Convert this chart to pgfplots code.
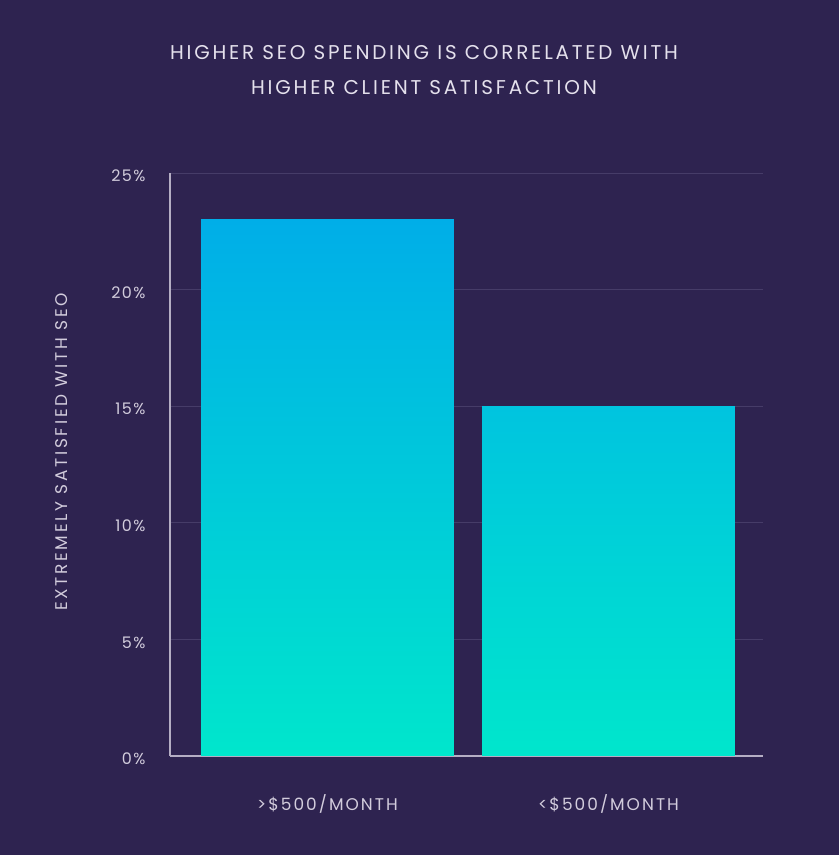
\documentclass[border=0pt]{standalone}
\usepackage{fontspec}
\setmainfont{Poppins}
\newfontfamily\titlefont[LetterSpace=14]{Poppins}
\newfontfamily\ylabfont[LetterSpace=16]{Poppins}
\newfontfamily\xlabfont[LetterSpace=12]{Poppins}
\newfontfamily\tickfont[LetterSpace=9]{Poppins}
\usepackage{pgfplots}
\pgfplotsset{compat=1.18}
\definecolor{bg}{HTML}{2E2350}
\definecolor{gridc}{HTML}{463C68}
\definecolor{axc}{HTML}{B5AEC4}
\definecolor{txt}{HTML}{E4E0EC}
\definecolor{tick}{HTML}{D2CCDC}
\definecolor{barbot}{HTML}{00E6CC}
\definecolor{bartopA}{HTML}{00AEE8}
\definecolor{bartopB}{HTML}{00C4DF}
\begin{document}
\begin{tikzpicture}[x=1bp,y=1bp]
\fill[bg] (0,0) rectangle (839,855);
\node[text=txt,font=\titlefont\fontsize{20}{24}\selectfont] at (424,802) {HIGHER SEO SPENDING IS CORRELATED WITH};
\node[text=txt,font=\titlefont\fontsize{20}{24}\selectfont] at (424,767) {HIGHER CLIENT SATISFACTION};
\node[text=tick,font=\ylabfont\fontsize{17}{20}\selectfont,rotate=90] at (62,403) {EXTREMELY SATISFIED WITH SEO};
\begin{axis}[
  at={(170bp,99bp)}, anchor=south west,
  scale only axis, width=593bp, height=583bp,
  xmin=-0.5605, xmax=1.55, ymin=0, ymax=25,
  xtick={0,1}, xticklabels={>\$500/MONTH,<\$500/MONTH},
  ytick={0,5,10,15,20,25},
  yticklabel={\pgfmathprintnumber{\tick}\%},
  /pgf/number format/assume math mode=true,
  axis x line*=bottom, axis y line*=left,
  axis line style={axc, line width=1.3bp},
  x axis line style={-}, y axis line style={-},
  major tick length=0pt,
  ymajorgrids, grid style={gridc, line width=0.8bp},
  xticklabel style={text=tick, font=\xlabfont\fontsize{17}{20}\selectfont, yshift=-35bp},
  yticklabel style={text=tick, font=\tickfont\fontsize{16}{19}\selectfont, xshift=-21bp, yshift=-3bp},
  clip=false,
]
\addplot[ybar, bar width=0.9, draw=none, bottom color=barbot, top color=bartopA] coordinates {(0,23)};
\addplot[ybar, bar width=0.9, draw=none, bottom color=barbot, top color=bartopB] coordinates {(1,15)};
\end{axis}
\end{tikzpicture}
\end{document}
